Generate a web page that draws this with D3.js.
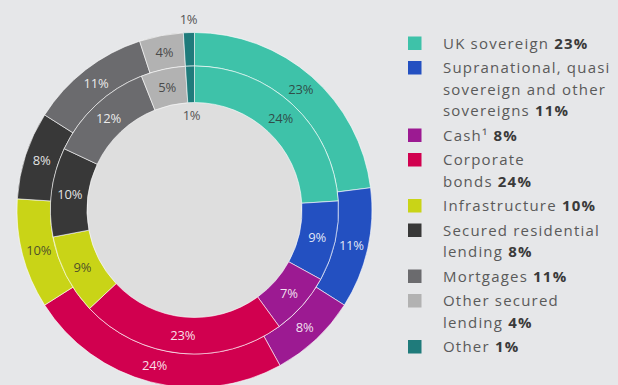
<!DOCTYPE html>
<html>
<head>
<meta charset="utf-8">
<script src="https://cdn.jsdelivr.net/npm/d3@7"></script>
<style>
  html, body { margin: 0; padding: 0; background: #e6e7e9; }
  svg { display: block; font-family: "Open Sans", "Noto Sans", sans-serif; }
</style>
</head>
<body>
<svg id="chart" width="618" height="385"></svg>
<script>
// Asset categories, in drawing order (clockwise from 12 o'clock)
const categories = [
  "UK sovereign",
  "Supranational, quasi sovereign and other sovereigns",
  "Cash¹",
  "Corporate bonds",
  "Infrastructure",
  "Secured residential lending",
  "Mortgages",
  "Other secured lending",
  "Other"
];

// Legend wording, broken into lines
const legendLines = [
  ["UK sovereign"],
  ["Supranational, quasi", "sovereign and other", "sovereigns"],
  ["Cash¹"],
  ["Corporate", "bonds"],
  ["Infrastructure"],
  ["Secured residential", "lending"],
  ["Mortgages"],
  ["Other secured", "lending"],
  ["Other"]
];

// Outer ring (current year) and inner ring (prior year), in %
const outerValues = [23, 11, 8, 24, 10, 8, 11, 4, 1];
const innerValues = [24, 9, 7, 23, 9, 10, 12, 5, 1];

const colors = [
  "#3ec2a9", "#2350c1", "#9c1a92", "#d1004f", "#c9d417",
  "#383838", "#6b6b6e", "#b2b2b2", "#1f7b7b"
];

const svg = d3.select("#chart");
const cx = 194.5, cy = 210;
const rHole = 107.5, rMid = 144, rOuter = 177.5;

const color = d3.scaleOrdinal().domain(categories).range(colors);
const pie = d3.pie().sort(null).value(d => d.value);

const g = svg.append("g").attr("transform", `translate(${cx},${cy})`);

// Centre hole
g.append("circle").attr("r", rHole).attr("fill", "#dedede");

function ring(values, r0, r1, cls, smallOffset) {
  const data = pie(values.map((v, i) => ({ key: categories[i], value: v })));
  const arc = d3.arc().innerRadius(r0).outerRadius(r1);
  const grp = g.append("g").attr("class", cls);

  grp.selectAll("path")
    .data(data)
    .join("path")
    .attr("d", arc)
    .attr("fill", d => color(d.data.key))
    .attr("stroke", "rgba(255,255,255,0.75)")
    .attr("stroke-width", 0.8);

  const rLabel = (r0 + r1) / 2;
  grp.selectAll("text")
    .data(data)
    .join("text")
    .attr("transform", d => {
      const a = (d.startAngle + d.endAngle) / 2;
      const r = d.data.value < 2 ? smallOffset : rLabel;
      return `translate(${r * Math.sin(a)},${-r * Math.cos(a)})`;
    })
    .attr("text-anchor", "middle")
    .attr("dy", "0.35em")
    .attr("font-size", 13)
    .attr("letter-spacing", -0.2)
    .attr("fill", d => {
      if (d.data.value < 2) return "#555";
      return d3.lab(color(d.data.key)).l > 60 ? "rgba(45,45,45,0.8)" : "rgba(255,255,255,0.88)";
    })
    .text(d => d.data.value + "%");
}

ring(outerValues, rMid, rOuter, "outer", rOuter + 13);
ring(innerValues, rHole, rMid, "inner", rHole - 13);

// Legend
const legend = svg.append("g").attr("class", "legend");
const lineH = 21.5, itemGap = 24.5;
let y = 43;
legendLines.forEach((lines, i) => {
  const item = legend.append("g");
  item.append("rect")
    .attr("x", 408).attr("y", y - 6.5)
    .attr("width", 13.5).attr("height", 13.5)
    .attr("fill", color(categories[i]));
  const t = item.append("text")
    .attr("font-size", 15)
    .attr("letter-spacing", 1.2)
    .attr("fill", "#5a5a5a");
  lines.forEach((ln, j) => {
    t.append("tspan")
      .attr("x", 443)
      .attr("y", y + j * lineH + 5.5)
      .text(ln);
    if (j === lines.length - 1) {
      t.append("tspan")
        .attr("font-weight", 700)
        .attr("fill", "#3a3a3a")
        .text(" " + outerValues[i] + "%");
    }
  });
  y += (lines.length - 1) * lineH + itemGap;
});
</script>
</body>
</html>
